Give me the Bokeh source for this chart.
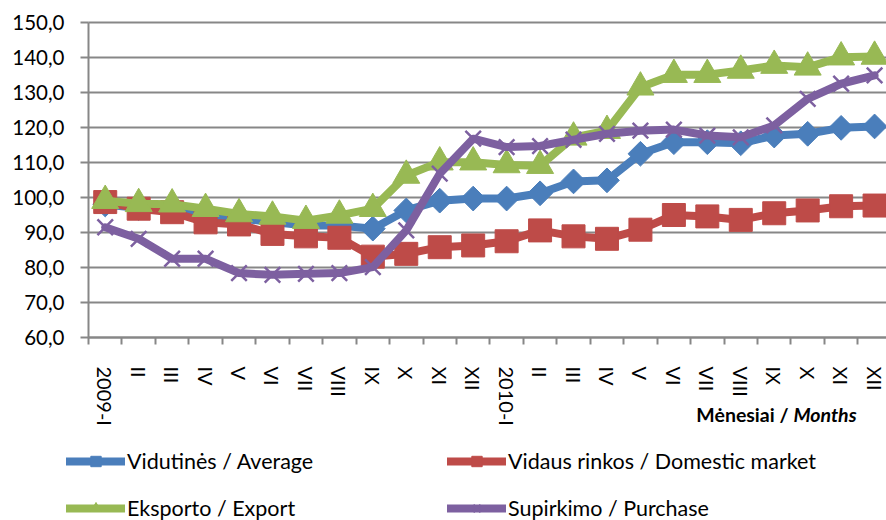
import math
from bokeh.plotting import figure
from bokeh.models import Range1d, FixedTicker, Legend, LegendItem, Label
from bokeh.embed import file_html
from bokeh.resources import INLINE

months = ["2009-I", "II", "III", "IV", "V", "VI", "VII", "VIII", "IX", "X", "XI", "XII",
          "2010-I", "II", "III", "IV", "V", "VI", "VII", "VIII", "IX", "X", "XI", "XII"]

average = [98.0, 97.0, 96.5, 95.0, 94.0, 93.0, 92.0, 92.0, 91.1, 96.3, 99.1, 99.7,
           99.7, 101.2, 104.6, 104.9, 112.5, 115.8, 115.8, 115.5, 117.7, 118.2, 119.9, 120.3]
domestic = [98.7, 96.8, 95.8, 92.9, 92.3, 89.6, 88.9, 88.5, 83.1, 83.9, 85.8, 86.3,
            87.5, 90.6, 88.9, 88.2, 90.8, 95.0, 94.6, 93.6, 95.5, 96.3, 97.5, 97.7]
export = [99.1, 98.2, 98.1, 96.8, 95.3, 94.6, 93.4, 94.9, 96.8, 106.3, 110.1, 110.1,
          109.3, 109.1, 117.2, 119.1, 131.5, 135.1, 135.1, 136.3, 137.7, 137.2, 140.1, 140.3]
purchase = [91.5, 88.2, 82.5, 82.5, 78.4, 77.9, 78.2, 78.4, 80.1, 90.6, 106.8, 116.8,
            114.4, 114.7, 116.5, 118.2, 119.1, 119.4, 117.7, 117.2, 120.6, 128.2, 132.5, 134.9]

y_ticks = [60, 70, 80, 90, 100, 110, 120, 130, 140, 150]
y_labels = ["60,0", "70,0", "80,0", "90,0", "100,0", "110,0", "120,0", "130,0", "140,0", "150,0"]

series_names = ["Vidutinės / Average", "Vidaus rinkos / Domestic market",
                "Eksporto / Export", "Supirkimo / Purchase"]
colors = ["#4A7EBB", "#BE4B48", "#98B954", "#7D60A0"]

FONT = "Lato"
GRID = "#878787"

# canvas layout (pixels)
W, H = 886, 520
PLOT_LEFT, PLOT_TOP, PLOT_BOTTOM = 88, 22, 337
STEP = 33.45                     # pixels per month
Y0, Y1 = y_ticks[0], y_ticks[-1]
PX_PER_UNIT = (PLOT_BOTTOM - PLOT_TOP) / (Y1 - Y0)

x_start = -0.5 - PLOT_LEFT / STEP
x_end = -0.5 + (W - PLOT_LEFT) / STEP
y_top = Y1 + PLOT_TOP / PX_PER_UNIT
y_bottom = Y0 - (H - PLOT_BOTTOM) / PX_PER_UNIT

x = list(range(len(months)))

p = figure(width=W, height=H, output_backend="svg", toolbar_location=None,
           x_range=Range1d(x_start, x_end), y_range=Range1d(y_bottom, y_top),
           min_border_left=0, min_border_right=0, min_border_top=0, min_border_bottom=0)
p.outline_line_color = None
p.xgrid.grid_line_color = None
p.ygrid.grid_line_color = GRID
p.ygrid.grid_line_width = 2
p.ygrid.cross_bounds = (-0.5, x_end)

p.yaxis.fixed_location = -0.5
p.yaxis.bounds = (Y0, Y1)
p.yaxis.ticker = FixedTicker(ticks=y_ticks)
p.yaxis.major_label_overrides = {t: l for t, l in zip(y_ticks, y_labels)}
p.yaxis.axis_line_color = GRID
p.yaxis.axis_line_width = 2
p.yaxis.major_tick_line_color = GRID
p.yaxis.major_tick_line_width = 2
p.yaxis.major_tick_out = 8
p.yaxis.major_tick_in = 0
p.yaxis.minor_tick_line_color = None
p.yaxis.major_label_standoff = 16
p.yaxis.major_label_text_font = FONT
p.yaxis.major_label_text_font_size = "20.5px"
p.yaxis.major_label_text_color = "black"

p.xaxis.fixed_location = Y0
p.xaxis.bounds = (-0.5, x_end)
p.xaxis.ticker = FixedTicker(ticks=x, minor_ticks=[i - 0.5 for i in range(len(months) + 1)])
p.xaxis.major_label_overrides = {i: m for i, m in zip(x, months)}
p.xaxis.axis_line_color = GRID
p.xaxis.axis_line_width = 2
p.xaxis.major_tick_line_color = None
p.xaxis.major_tick_out = 0
p.xaxis.major_tick_in = 0
p.xaxis.minor_tick_line_color = GRID
p.xaxis.minor_tick_line_width = 2
p.xaxis.minor_tick_out = 7
p.xaxis.minor_tick_in = 0
p.xaxis.major_label_orientation = "vertical"
p.xaxis.major_label_standoff = 22
p.xaxis.major_label_text_font = FONT
p.xaxis.major_label_text_font_size = "20px"
p.xaxis.major_label_text_color = "black"

markers = [dict(marker="square", size=17.5, angle=math.pi / 4),
           dict(marker="square", size=23),
           dict(marker="triangle", size=27),
           dict(marker="x", size=22)]

items = []
for vals, col, name, mk in zip([average, domestic, export, purchase], colors, series_names, markers):
    lr = p.line(x, vals, line_color=col, line_width=8, line_join="round", line_cap="round")
    if mk["marker"] == "x":
        sr = p.scatter(x, vals, marker="x", size=mk["size"], line_color=col, line_width=2.5)
    else:
        sr = p.scatter(x, vals, marker=mk["marker"], size=mk["size"], angle=mk.get("angle", 0),
                       fill_color=col, line_color=col)
    items.append(LegendItem(label=name, renderers=[lr, sr]))

legend = Legend(items=items, location=(66, -1), orientation="horizontal", ncols=2,
                glyph_width=59, glyph_height=26, label_standoff=2, label_width=299,
                spacing=21, padding=0, margin=0,
                border_line_color=None, background_fill_alpha=0,
                label_text_font=FONT, label_text_font_size="21.5px", label_text_color="black")
p.add_layout(legend, "center")

p.add_layout(Label(x=788, y=H - 414, x_units="screen", y_units="screen", text="Mėnesiai /",
                   text_align="right", text_baseline="middle", text_font=FONT,
                   text_font_size="19.5px", text_font_style="bold", text_color="black"))
p.add_layout(Label(x=793, y=H - 414, x_units="screen", y_units="screen", text="Months",
                   text_align="left", text_baseline="middle", text_font=FONT,
                   text_font_size="19.5px", text_font_style="bold italic", text_color="black"))

open("out.html", "w").write(file_html(p, INLINE))
